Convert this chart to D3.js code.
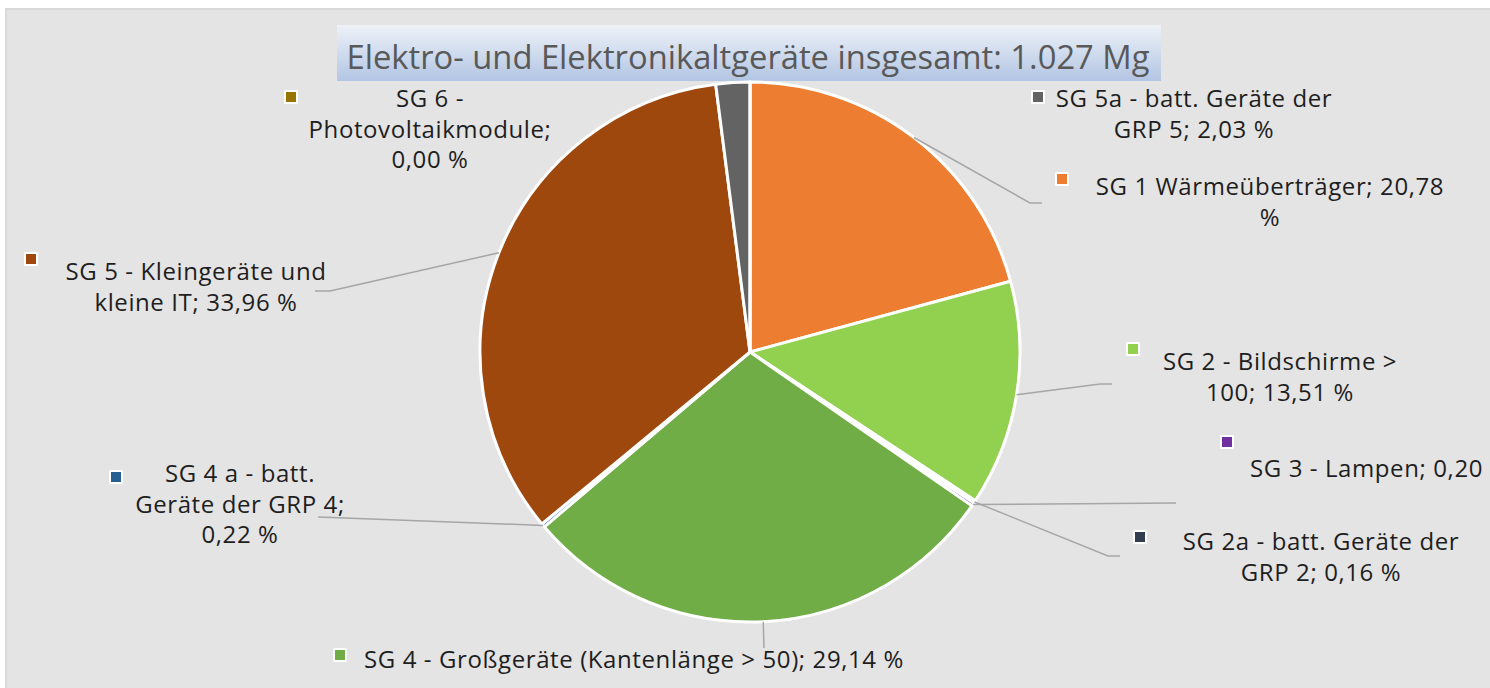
<!DOCTYPE html>
<html lang="de">
<head>
<meta charset="utf-8">
<title>Elektro- und Elektronikaltgeräte</title>
<script src="https://cdn.jsdelivr.net/npm/d3@7"></script>
<style>
  body { margin: 0; background: #ffffff; overflow: hidden; }
  text { font-family: "Open Sans", sans-serif; }
</style>
</head>
<body>
<script>
// data
var categories = [
  "SG 1 Wärmeüberträger",
  "SG 2 - Bildschirme > 100",
  "SG 2a - batt. Geräte der GRP 2",
  "SG 3 - Lampen",
  "SG 4 - Großgeräte (Kantenlänge > 50)",
  "SG 4 a - batt. Geräte der GRP 4",
  "SG 5 - Kleingeräte und kleine IT",
  "SG 5a - batt. Geräte der GRP 5",
  "SG 6 - Photovoltaikmodule"
];
var shares = [20.78, 13.51, 0.16, 0.20, 29.14, 0.22, 33.96, 2.03, 0.00];
var colors = ["#ed7d31", "#92d050", "#333f50", "#7030a0", "#70ad47", "#255e91", "#9e480e", "#636363", "#997300"];
var title = "Elektro- und Elektronikaltgeräte insgesamt: 1.027 Mg";

var w = 1490, h = 688;
var cx = 750, cy = 352, radius = 270;

// label placement (x, first baseline, words per line, legend key, leader bends)
var labelLayout = [
  {x: 1270, y: 195, breaks: [4, 1], key: [1062, 179], leader: [[1030, 203], [1042, 203]]},
  {x: 1280, y: 370, breaks: [5, 3], key: [1133, 349], leader: [[1100, 384], [1112, 384]]},
  {x: 1321, y: 550, breaks: [6, 4], key: [1140, 537], leader: [[1108, 556], [1120, 556]]},
  {x: 1250, y: 477, breaks: [6], key: [1227, 442], leader: [[1176, 503]], anchor: "start"},
  {x: 634, y: 668, breaks: [9], key: [340, 655], leader: [[764, 648]]},
  {x: 240, y: 482, breaks: [5, 4, 2], key: [116, 477], leader: [[318, 517]]},
  {x: 196, y: 280, breaks: [5, 4], key: [31, 259], leader: [[330, 291], [315, 291]]},
  {x: 1194, y: 107, breaks: [6, 4], key: [1038, 97], leader: null},
  {x: 430, y: 107, breaks: [3, 1, 2], key: [291, 97], leader: null}
];

var svg = d3.select("body").append("svg")
  .attr("width", w)
  .attr("height", h);

// chart area
svg.append("rect")
  .attr("x", 6).attr("y", 9)
  .attr("width", w + 10).attr("height", h + 10)
  .attr("fill", "#e4e4e4")
  .attr("stroke", "#d9d9d9")
  .attr("stroke-width", 2);

// title box
var defs = svg.append("defs");
var grad = defs.append("linearGradient")
  .attr("id", "titleGrad")
  .attr("x1", 0).attr("y1", 0).attr("x2", 0).attr("y2", 1);
grad.append("stop").attr("offset", "0%").attr("stop-color", "#eef2f8");
grad.append("stop").attr("offset", "100%").attr("stop-color", "#b2c5e3");

svg.append("rect")
  .attr("x", 337).attr("y", 25)
  .attr("width", 824).attr("height", 56)
  .attr("fill", "url(#titleGrad)");

svg.append("text")
  .attr("x", 748).attr("y", 69)
  .attr("text-anchor", "middle")
  .attr("font-family", "Lato, sans-serif")
  .attr("font-size", 33)
  .attr("fill", "#595959")
  .attr("textLength", 803)
  .attr("lengthAdjust", "spacingAndGlyphs")
  .text(title);

// pie
var pie = d3.pie().sort(null).value(function(d) { return d; });
var arcs = pie(shares);
var arc = d3.arc().innerRadius(0).outerRadius(radius);

var g = svg.append("g").attr("transform", "translate(" + cx + "," + cy + ")");

g.selectAll("path.slice")
  .data(arcs)
  .enter()
  .append("path")
  .attr("class", "slice")
  .attr("d", arc)
  .attr("fill", function(d, i) { return colors[i]; })
  .attr("stroke", "#ffffff")
  .attr("stroke-width", 3)
  .attr("stroke-linejoin", "round");

// leader lines
function edgePoint(d) {
  var a = (d.startAngle + d.endAngle) / 2;
  return [cx + radius * Math.sin(a), cy - radius * Math.cos(a)];
}

arcs.forEach(function(d, i) {
  var lay = labelLayout[i];
  if (!lay.leader) return;
  var pts = [edgePoint(d)].concat(lay.leader);
  svg.append("path")
    .attr("d", d3.line()(pts))
    .attr("fill", "none")
    .attr("stroke", "#a6a6a6")
    .attr("stroke-width", 1.5);
});

// data labels
var fmt = function(v) { return v.toFixed(2).replace(".", ","); };

arcs.forEach(function(d, i) {
  var lay = labelLayout[i];
  var words = (categories[i] + "; " + fmt(shares[i]) + " %").split(" ");
  var lines = [], k = 0;
  lay.breaks.forEach(function(n) {
    lines.push(words.slice(k, k + n).join(" "));
    k += n;
  });

  var t = svg.append("text")
    .attr("text-anchor", lay.anchor || "middle")
    .attr("font-size", 24)
    .attr("letter-spacing", 0.6)
    .attr("fill", "#1e1e1e");
  lines.forEach(function(line, j) {
    t.append("tspan")
      .attr("x", lay.x)
      .attr("y", lay.y + j * 30.5)
      .text(line);
  });

  // legend key
  svg.append("rect")
    .attr("x", lay.key[0] - 7).attr("y", lay.key[1] - 7)
    .attr("width", 14).attr("height", 14)
    .attr("rx", 1.5)
    .attr("fill", "#ffffff");
  svg.append("rect")
    .attr("x", lay.key[0] - 5).attr("y", lay.key[1] - 5)
    .attr("width", 10).attr("height", 10)
    .attr("fill", colors[i]);
});
</script>
</body>
</html>
